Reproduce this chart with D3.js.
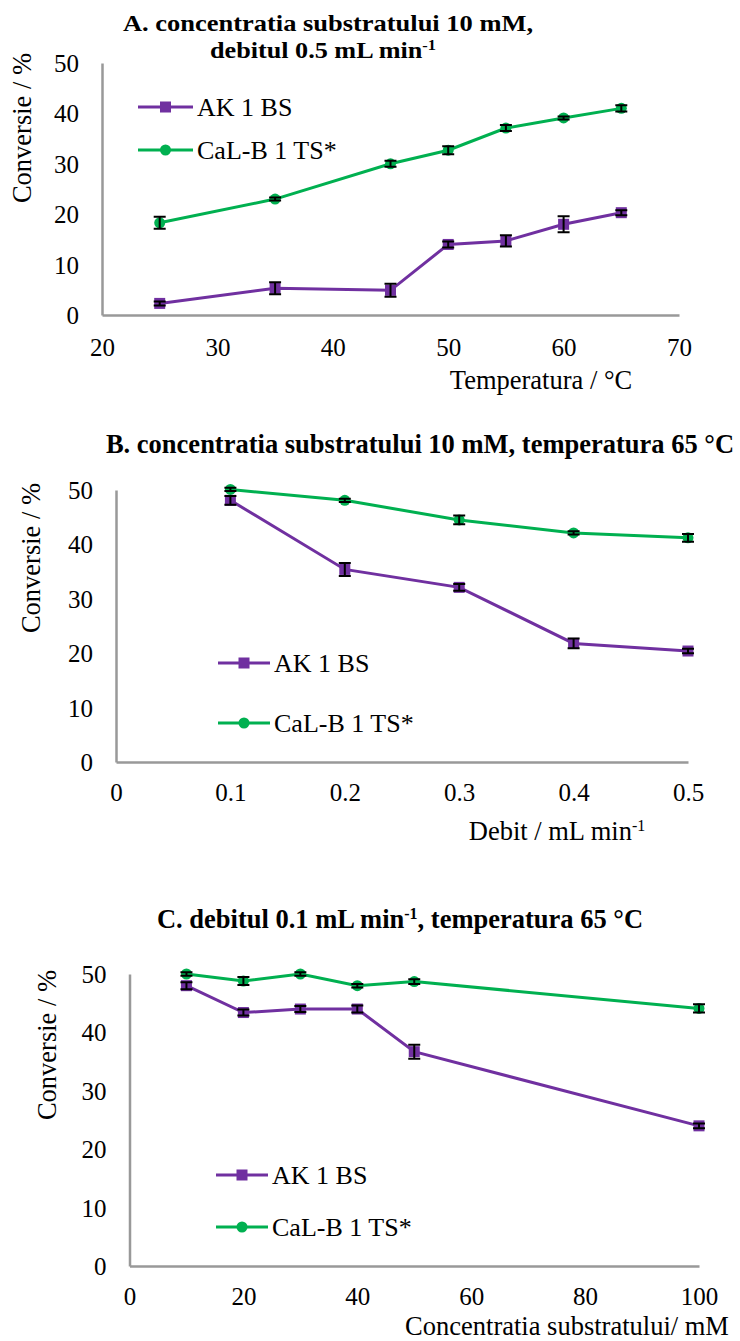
<!DOCTYPE html>
<html>
<head>
<meta charset="utf-8">
<script src="https://cdn.jsdelivr.net/npm/d3@7"></script>
<style>
  body { margin: 0; background: #fff; }
  svg text { font-family: "Liberation Serif", "Times New Roman", serif; }
</style>
</head>
<body>
<svg width="740" height="1341"></svg>
<script>
  // shared
  const seriesNames = ['AK 1 BS', 'CaL-B 1 TS*'];
  const yTicks = [0, 10, 20, 30, 40, 50];

  // A: temperature
  const tempX = [25, 35, 45, 50, 55, 60, 65];
  const tempAK = [2.3, 5.3, 4.9, 14.0, 14.7, 18.0, 20.3];
  const tempAKErr = [0.4, 1.2, 1.3, 0.6, 1.1, 1.6, 0.5];
  const tempCaLB = [18.3, 23.0, 30.0, 32.7, 37.1, 39.1, 41.0];
  const tempCaLBErr = [1.2, 0.3, 0.6, 0.8, 0.6, 0.3, 0.6];
  const tempTicks = [20, 30, 40, 50, 60, 70];

  // B: flow rate
  const flowX = [0.1, 0.2, 0.3, 0.4, 0.5];
  const flowAK = [48.1, 35.4, 32.1, 21.8, 20.4];
  const flowAKErr = [0.8, 1.2, 0.6, 0.9, 0.4];
  const flowCaLB = [50.1, 48.1, 44.5, 42.1, 41.2];
  const flowCaLBErr = [0.3, 0.3, 0.8, 0.3, 0.7];
  const flowTicks = [0, 0.1, 0.2, 0.3, 0.4, 0.5];

  // C: substrate concentration
  const concX = [10, 20, 30, 40, 50, 100];
  const concAK = [48.0, 43.4, 44.0, 44.0, 36.7, 24.0];
  const concAKErr = [0.6, 0.5, 0.5, 0.6, 1.2, 0.4];
  const concCaLB = [50.0, 48.8, 50.0, 48.0, 48.7, 44.1];
  const concCaLBErr = [0.3, 0.7, 0.3, 0.3, 0.4, 0.7];
  const concTicks = [0, 20, 40, 60, 80, 100];

  const purple = '#7030a0';
  const green = '#00b050';
  const axisGrey = '#999999';
  const serif = '"Liberation Serif", "Times New Roman", serif';

  const svg = d3.select('svg');

  const addParts = (t, parts, supSize) => {
    parts.forEach(part => {
      t.append('tspan')
        .attr('baseline-shift', part.sup ? '55%' : null)
        .attr('font-size', part.sup ? supSize : null)
        .text(part.text);
    });
  };

  const drawPanel = (p) => {
    const g = svg.append('g');
    const x = d3.scaleLinear().domain(p.xDomain).range([p.left, p.right]);
    const y = d3.scaleLinear().domain([0, 50]).range([p.bottom, p.top]);

    // title lines (first panel squeezes two lines, so those get a fixed length)
    p.title.forEach(line => {
      const t = g.append('text')
        .attr('x', line.x).attr('y', line.y)
        .attr('text-anchor', 'middle')
        .attr('font-weight', 'bold')
        .attr('font-size', line.size || 26.5)
        .style('font-family', serif);
      if (line.len) t.attr('textLength', line.len).attr('lengthAdjust', 'spacingAndGlyphs');
      addParts(t, line.parts, line.size ? 15 : 16);
    });

    // axes
    const xAxis = g.append('g')
      .attr('transform', `translate(0,${p.bottom})`)
      .call(d3.axisBottom(x).tickValues(p.xTicks).tickSize(0).tickPadding(p.xPad)
        .tickFormat(d3.format(p.xFormat)));
    const yAxis = g.append('g')
      .attr('transform', `translate(${p.left},0)`)
      .call(d3.axisLeft(y).tickValues(yTicks).tickSize(0).tickPadding(p.yPad));
    [xAxis, yAxis].forEach(a => {
      a.attr('font-family', serif).attr('font-size', 25);
      a.select('.domain').attr('stroke', axisGrey).attr('stroke-width', 2.5);
      a.selectAll('text').attr('fill', '#000').style('font-family', serif);
    });
    yAxis.selectAll('text').attr('dy', '0.34em');

    // axis titles
    g.append('text')
      .attr('transform', `translate(${p.yTitle.x},${p.yTitle.y}) rotate(-90)`)
      .attr('text-anchor', 'middle')
      .attr('dy', '0.34em')
      .attr('font-size', 26.5)
      .style('font-family', serif)
      .text('Conversie / %');
    const xt = g.append('text')
      .attr('x', p.xTitle.x).attr('y', p.xTitle.y)
      .attr('text-anchor', 'middle')
      .attr('font-size', 26.5)
      .style('font-family', serif);
    addParts(xt, p.xTitle.parts, 16);

    // series
    const series = [
      { name: seriesNames[0], vals: p.ak, err: p.akErr, color: purple, shape: 'square' },
      { name: seriesNames[1], vals: p.calb, err: p.calbErr, color: green, shape: 'circle' }
    ];
    const line = d3.line().x(d => x(d[0])).y(d => y(d[1]));

    series.forEach(s => {
      const pts = p.xs.map((xv, i) => [xv, s.vals[i], s.err[i]]);
      g.append('path')
        .attr('d', line(pts))
        .attr('fill', 'none')
        .attr('stroke', s.color)
        .attr('stroke-width', 3);
      const sg = g.append('g');
      if (s.shape === 'square') {
        sg.selectAll('rect').data(pts).enter().append('rect')
          .attr('x', d => x(d[0]) - 5.5).attr('y', d => y(d[1]) - 5.5)
          .attr('width', 11).attr('height', 11)
          .attr('fill', s.color);
      } else {
        sg.selectAll('circle').data(pts).enter().append('circle')
          .attr('cx', d => x(d[0])).attr('cy', d => y(d[1]))
          .attr('r', 5.5)
          .attr('fill', s.color);
      }
      // error bars
      const eb = g.append('g').attr('stroke', '#000').attr('stroke-width', 2);
      eb.selectAll('path').data(pts).enter().append('path')
        .attr('fill', 'none')
        .attr('d', d => {
          const cx = x(d[0]), y1 = y(d[1] + d[2]), y0 = y(d[1] - d[2]);
          return `M${cx - 6},${y1}H${cx + 6}M${cx},${y1}V${y0}M${cx - 6},${y0}H${cx + 6}`;
        });
    });

    // legend
    const lg = g.append('g');
    series.forEach((s, i) => {
      const ly = p.legend.rows[i];
      lg.append('line')
        .attr('x1', p.legend.x0).attr('x2', p.legend.x1)
        .attr('y1', ly).attr('y2', ly)
        .attr('stroke', s.color).attr('stroke-width', 3);
      const mx = (p.legend.x0 + p.legend.x1) / 2;
      if (s.shape === 'square') {
        lg.append('rect').attr('x', mx - 5.5).attr('y', ly - 5.5)
          .attr('width', 11).attr('height', 11).attr('fill', s.color);
      } else {
        lg.append('circle').attr('cx', mx).attr('cy', ly).attr('r', 5.5).attr('fill', s.color);
      }
      lg.append('text')
        .attr('x', p.legend.x1 + 4).attr('y', ly)
        .attr('dy', '0.34em')
        .attr('font-size', 26)
        .style('font-family', serif)
        .text(s.name);
    });
  };

  drawPanel({
    xDomain: [20, 70], left: 102, right: 679, top: 63, bottom: 315,
    xTicks: tempTicks, xFormat: 'd', xPad: 23, yPad: 23,
    xs: tempX, ak: tempAK, akErr: tempAKErr, calb: tempCaLB, calbErr: tempCaLBErr,
    title: [
      { x: 328, y: 30.5, size: 24, len: 410, parts: [{ text: 'A. concentratia substratului 10 mM,' }] },
      { x: 323, y: 57.5, size: 24, len: 226, parts: [{ text: 'debitul 0.5 mL min' }, { text: '-1', sup: true }] }
    ],
    yTitle: { x: 22, y: 128 },
    xTitle: { x: 541, y: 389, parts: [{ text: 'Temperatura / °C' }] },
    legend: { x0: 138, x1: 193, rows: [107, 150] }
  });

  drawPanel({
    xDomain: [0, 0.5], left: 116, right: 688, top: 490, bottom: 762,
    xTicks: flowTicks, xFormat: '', xPad: 21, yPad: 23,
    xs: flowX, ak: flowAK, akErr: flowAKErr, calb: flowCaLB, calbErr: flowCaLBErr,
    title: [
      { x: 420, y: 453, parts: [{ text: 'B. concentratia substratului 10 mM, temperatura 65 °C' }] }
    ],
    yTitle: { x: 31, y: 558 },
    xTitle: { x: 557, y: 840, parts: [{ text: 'Debit / mL min' }, { text: '-1', sup: true }] },
    legend: { x0: 218, x1: 270, rows: [663, 723] }
  });

  drawPanel({
    xDomain: [0, 100], left: 129.5, right: 699, top: 974, bottom: 1266,
    xTicks: concTicks, xFormat: 'd', xPad: 21, yPad: 23,
    xs: concX, ak: concAK, akErr: concAKErr, calb: concCaLB, calbErr: concCaLBErr,
    title: [
      { x: 400, y: 928, parts: [{ text: 'C. debitul 0.1 mL min' }, { text: '-1', sup: true }, { text: ', temperatura 65 °C' }] }
    ],
    yTitle: { x: 47, y: 1045 },
    xTitle: { x: 567, y: 1335, parts: [{ text: 'Concentratia substratului/ mM' }] },
    legend: { x0: 216, x1: 268, rows: [1175, 1227] }
  });
</script>
</body>
</html>
